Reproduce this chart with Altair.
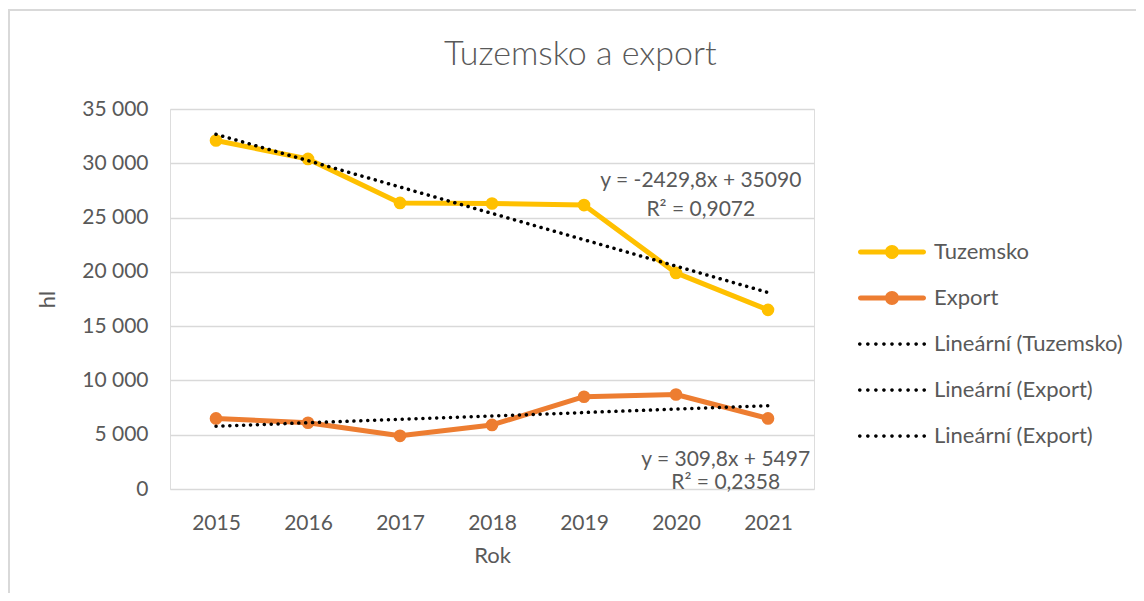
import altair as alt
import pandas as pd

# ---- data ----
years = [2015, 2016, 2017, 2018, 2019, 2020, 2021]
tuzemsko = [32100, 30400, 26350, 26300, 26150, 19900, 16500]
export = [6500, 6100, 4900, 5900, 8500, 8700, 6500]
series_names = ["Tuzemsko", "Export"]
legend_labels = ["Tuzemsko", "Export", "Lineární (Tuzemsko)", "Lineární (Export)", "Lineární (Export) "]
y_ticks = [0, 5000, 10000, 15000, 20000, 25000, 30000, 35000]
eq_text = ["y = -2429,8x + 35090", "R² = 0,9072", "y = 309,8x + 5497", "R² = 0,2358"]
eq_x = [2020.27, 2020.27, 2020.54, 2020.54]
eq_y = [28370, 25700, 2670, 550]
chart_title = ["Tuzemsko a export"]
title_x = [2018.96]
title_y = [39950]
x_title = "Rok"
y_title = "hl"

YELLOW = "#FFC000"
ORANGE = "#ED7D31"
TEXT = "#595959"
GRID = "#D9D9D9"
FONT = "Lato"

rows = []
for name, vals in zip(series_names, [tuzemsko, export]):
    for yr, v in zip(years, vals):
        rows.append({"year": yr, "hl": v, "series": name})
df = pd.DataFrame(rows)
eq_df = pd.DataFrame({"x": eq_x, "y": eq_y, "t": eq_text})
title_df = pd.DataFrame({"x": title_x, "y": title_y, "t": chart_title})
legend_df = pd.DataFrame({"series": legend_labels})

x_enc = alt.X(
    "year:Q",
    scale=alt.Scale(domain=[2014.5, 2021.5], nice=False, zero=False),
    axis=alt.Axis(values=years, format="d", title=x_title, grid=False, ticks=False,
                  tickSize=0, domain=False, labelFontSize=21, labelColor=TEXT,
                  labelFont=FONT, labelPadding=23, titleFontSize=22, titleColor=TEXT,
                  titleFont=FONT, titleFontWeight="normal", titlePadding=12),
)
y_enc = alt.Y(
    "hl:Q",
    scale=alt.Scale(domain=[0, 35000], nice=False),
    axis=alt.Axis(values=y_ticks, title=y_title, grid=True, gridColor=GRID, gridWidth=1.3,
                  ticks=False, tickSize=0, domain=False, labelFontSize=21, labelColor=TEXT,
                  labelFont=FONT, labelPadding=22,
                  labelExpr="replace(format(datum.value, ','), ',', ' ')",
                  titleFontSize=22, titleColor=TEXT, titleFont=FONT,
                  titleFontWeight="normal", titlePadding=22),
)

base = alt.Chart(df).encode(x=x_enc, y=y_enc)

layers = []
for name, col in zip(series_names, [YELLOW, ORANGE]):
    sub = base.transform_filter(alt.datum.series == name)
    layers.append(sub.mark_line(color=col, strokeWidth=5, strokeJoin="round", strokeCap="round"))
    layers.append(sub.mark_point(color=col, filled=True, opacity=1, size=160))

for name in series_names:
    trend = (
        alt.Chart(df)
        .transform_filter(alt.datum.series == name)
        .transform_regression("year", "hl", extent=[2015, 2021])
        .mark_line(color="black", strokeWidth=3.5, strokeCap="round", strokeDash=[0.1, 6.8])
        .encode(x=alt.X("year:Q"), y=alt.Y("hl:Q"))
    )
    layers.append(trend)

eq = alt.Chart(eq_df).mark_text(fontSize=21, font=FONT, color=TEXT, align="center",
                                baseline="middle").encode(
    x=alt.X("x:Q"), y=alt.Y("y:Q"), text="t:N")
layers.append(eq)

title_mark = alt.Chart(title_df).mark_text(fontSize=34, font=FONT, fontWeight=300, color=TEXT,
                                           align="center", baseline="middle").encode(
    x=alt.X("x:Q"), y=alt.Y("y:Q"), text="t:N")
layers.append(title_mark)

# custom legend symbols
u_line = ("M-0.75,-0.25 L5.55,-0.25 A0.25,0.25 0 0,1 5.55,0.25 L-0.75,0.25 "
          "A0.25,0.25 0 0,1 -0.75,-0.25 Z M1.7,0 A0.7,0.7 0 1,1 3.1,0 A0.7,0.7 0 1,1 1.7,0 Z")
r = 0.18
dots = []
for i in range(9):
    cx = -1 + r + i * (6.8 - 2 * r) / 8
    dots.append(f"M{cx - r:.3f},0 A{r},{r} 0 1,1 {cx + r:.3f},0 A{r},{r} 0 1,1 {cx - r:.3f},0 Z")
u_dots = " ".join(dots)

leg_props = dict(title=None, orient="none", legendX=687, legendY=132,
                 symbolSize=400, symbolStrokeWidth=0, symbolOpacity=1,
                 labelFontSize=22, labelFont=FONT, labelColor=TEXT, labelOffset=55,
                 rowPadding=24, padding=0, labelLimit=400)
legend_layer = (
    alt.Chart(legend_df)
    .transform_filter("false")
    .mark_point(filled=True, opacity=1)
    .encode(
        color=alt.Color("series:N", scale=alt.Scale(domain=legend_labels,
                        range=[YELLOW, ORANGE, "black", "black", "black"]),
                        legend=alt.Legend(**leg_props)),
        shape=alt.Shape("series:N", scale=alt.Scale(domain=legend_labels,
                        range=[u_line, u_line, u_dots, u_dots, u_dots]),
                        legend=alt.Legend(**leg_props)),
    )
)
layers.append(legend_layer)

# chart frame
frame_top = alt.Chart(legend_df).mark_rule(color=GRID, strokeWidth=1.5).encode(
    x=alt.value(-162), x2=alt.value(966), y=alt.value(-99))
frame_left = alt.Chart(legend_df).mark_rule(color=GRID, strokeWidth=1.5).encode(
    x=alt.value(-161), y=alt.value(-99), y2=alt.value(500))
layers = [frame_top, frame_left] + layers

chart = (
    alt.layer(*layers)
    .properties(
        width=644, height=380,
        autosize=alt.AutoSizeParams(type="none"),
        padding={"left": 162, "top": 101, "right": 322, "bottom": 104},
    )
    .configure_view(stroke=None)
    .configure(background="white")
)

chart.save("out.html", embed_options={"renderer": "svg", "actions": False})
